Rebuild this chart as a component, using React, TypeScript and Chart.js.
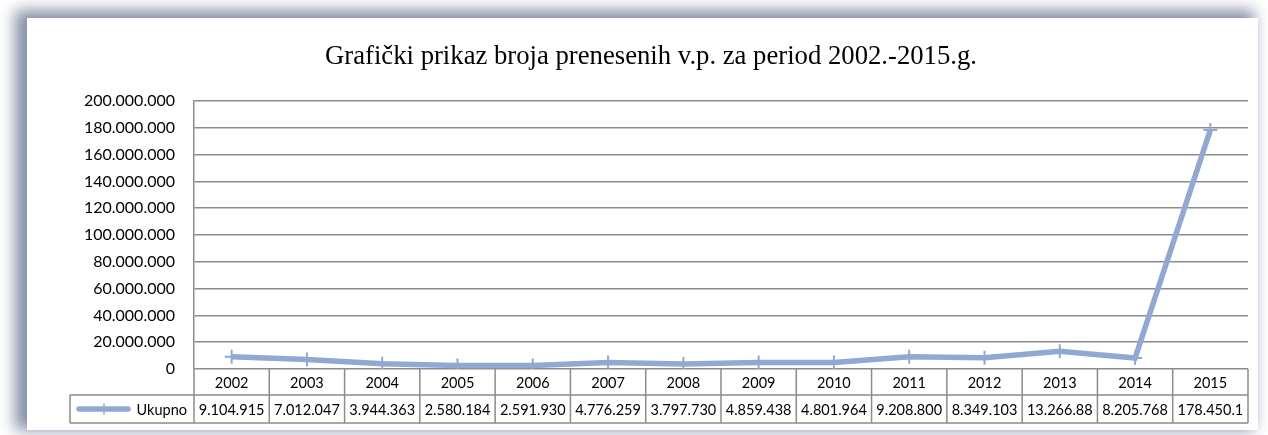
import React, { useEffect, useRef } from "react";
import { Chart, registerables } from "chart.js";

Chart.register(...registerables);

const TITLE = "Grafički prikaz broja prenesenih v.p. za period 2002.-2015.g.";
const SERIES_NAME = "Ukupno";
const years = ["2002", "2003", "2004", "2005", "2006", "2007", "2008", "2009", "2010", "2011", "2012", "2013", "2014", "2015"];
const ukupno = [9104915, 7012047, 3944363, 2580184, 2591930, 4776259, 3797730, 4859438, 4801964, 9208800, 8349103, 13266880, 8205768, 178450100];
// table cell texts as shown (truncated by the cell width in the original)
const tableLabels = ["9.104.915", "7.012.047", "3.944.363", "2.580.184", "2.591.930", "4.776.259", "3.797.730", "4.859.438", "4.801.964", "9.208.800", "8.349.103", "13.266.88", "8.205.768", "178.450.1"];
const yMin = 0;
const yMax = 200000000;
const yStep = 20000000;

const LINE_COLOR = "rgb(145,168,210)";
const GRID_COLOR = "#8c8c8c";
const SANS = "Lato, 'Open Sans', sans-serif";

const fmt = (v: number) => String(Math.round(v)).replace(/\B(?=(\d{3})+(?!\d))/g, ".");

const tablePlugin = {
  id: "dataTable",
  afterDraw(chart: any) {
    const { ctx, chartArea, scales } = chart;
    const x = scales.x;
    const n = years.length;
    const colW = (chartArea.right - chartArea.left) / n;
    const top = chartArea.bottom;
    const mid = top + 26;
    const bot = top + 54;
    const legLeft = 70;

    ctx.save();
    // title
    ctx.fillStyle = "#000";
    ctx.font = "26.7px 'Liberation Serif', 'Times New Roman', serif";
    ctx.textAlign = "center";
    ctx.textBaseline = "alphabetic";
    ctx.fillText(TITLE, 651, 64);

    ctx.strokeStyle = GRID_COLOR;
    ctx.lineWidth = 1.5;
    ctx.beginPath();
    ctx.moveTo(legLeft, mid);
    ctx.lineTo(chartArea.right, mid);
    ctx.moveTo(legLeft, bot);
    ctx.lineTo(chartArea.right, bot);
    ctx.moveTo(legLeft, mid);
    ctx.lineTo(legLeft, bot);
    for (let i = 0; i <= n; i++) {
      const cx = chartArea.left + i * colW;
      ctx.moveTo(cx, top);
      ctx.lineTo(cx, bot);
    }
    ctx.stroke();

    ctx.fillStyle = "#000";
    ctx.font = `14.5px ${SANS}`;
    ctx.textBaseline = "middle";
    ctx.textAlign = "center";
    for (let i = 0; i < n; i++) {
      const cx = x.getPixelForValue(i);
      ctx.fillText(years[i], cx, (top + mid) / 2 + 1);
      ctx.save();
      ctx.beginPath();
      ctx.rect(cx - colW / 2 + 1, mid, colW - 2, bot - mid);
      ctx.clip();
      ctx.fillText(tableLabels[i], cx, (mid + bot) / 2 + 1);
      ctx.restore();
    }

    // legend key
    const ly = (mid + bot) / 2;
    ctx.strokeStyle = LINE_COLOR;
    ctx.lineWidth = 5.5;
    ctx.lineCap = "round";
    ctx.beginPath();
    ctx.moveTo(79, ly);
    ctx.lineTo(128, ly);
    ctx.stroke();
    ctx.lineWidth = 1.5;
    ctx.beginPath();
    ctx.moveTo(104, ly - 5);
    ctx.lineTo(104, ly + 5);
    ctx.stroke();
    ctx.fillStyle = "#000";
    ctx.textAlign = "right";
    ctx.fillText(SERIES_NAME, 187, ly + 1);
    ctx.restore();
  },
};

export default function App() {
  const ref = useRef<HTMLCanvasElement | null>(null);
  useEffect(() => {
    document.body.style.margin = "0";
    if (!ref.current) return;
    const chart = new Chart(ref.current, {
      type: "line",
      data: {
        labels: years,
        datasets: [
          {
            label: SERIES_NAME,
            data: ukupno,
            borderColor: LINE_COLOR,
            backgroundColor: LINE_COLOR,
            borderWidth: 5.5,
            pointStyle: "cross",
            pointRadius: 7,
            pointBorderWidth: 2,
            pointBorderColor: LINE_COLOR,
            tension: 0,
          },
        ],
      },
      options: {
        responsive: false,
        animation: false,
        layout: { padding: { top: 101, right: 20, bottom: 66, left: 0 } },
        plugins: {
          legend: { display: false },
          title: { display: false },
          tooltip: { enabled: false },
        },
        scales: {
          x: { type: "category", display: false, offset: true },
          y: {
            min: yMin,
            max: yMax,
            afterFit: (s: any) => {
              s.width = 194;
            },
            ticks: {
              stepSize: yStep,
              padding: 19,
              color: "#000",
              font: { family: SANS, size: 16 },
              callback: (v: any) => fmt(Number(v)),
            },
            grid: { color: GRID_COLOR, lineWidth: 1.5, drawTicks: false },
            border: { display: true, color: GRID_COLOR, width: 1.5 },
          },
        },
      },
      plugins: [tablePlugin],
    });
    return () => chart.destroy();
  }, []);

  return (
    <div style={{ position: "relative", width: 1268, height: 435, overflow: "hidden", background: "#fff" }}>
      <div
        style={{
          position: "absolute",
          left: 27,
          top: 18,
          width: 1231,
          height: 412,
          background: "#fff",
          boxShadow: "-8px -4px 14px 4px rgba(130,138,162,0.95)",
        }}
      />
      <canvas ref={ref} width={1268} height={435} style={{ position: "absolute", left: 0, top: 0 }} />
    </div>
  );
}
